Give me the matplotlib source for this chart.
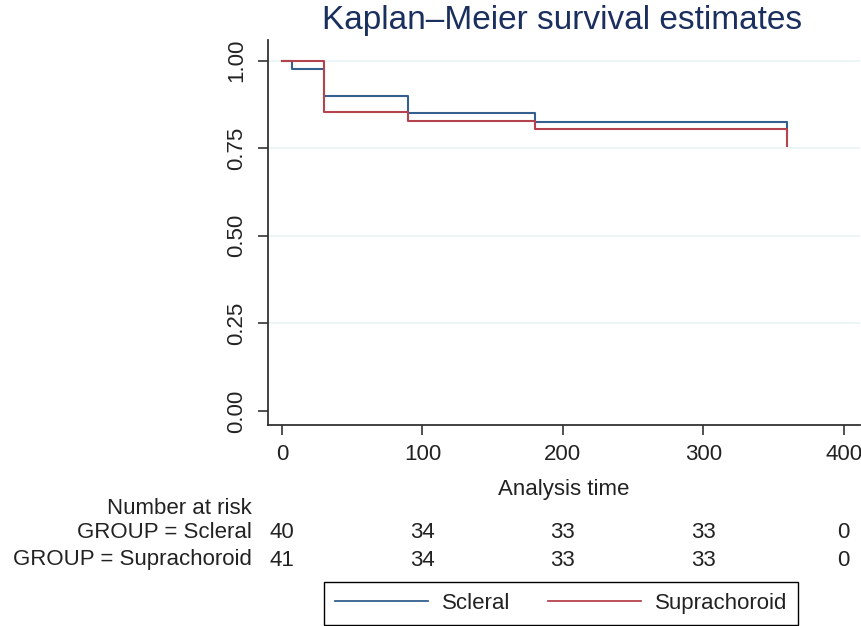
import matplotlib
matplotlib.use('Agg')
import matplotlib.pyplot as plt
from matplotlib.transforms import blended_transform_factory

plt.rcParams['font.family'] = ['Liberation Sans', 'DejaVu Sans']

# survival curves (time, estimate)
scleral_t = [0, 7, 30, 90, 180, 360]
scleral_s = [1.0, 0.975, 0.90, 0.85, 0.825, 0.80]
supra_t = [0, 30, 90, 180, 360]
supra_s = [1.0, 0.854, 0.829, 0.805, 0.756]

# number at risk table
risk_times = [0, 100, 200, 300, 400]
risk_scleral = [40, 34, 33, 33, 0]
risk_supra = [41, 34, 33, 33, 0]
group_labels = ['GROUP = Scleral', 'GROUP = Suprachoroid']

blue = '#345f8e'
red = '#b5434e'
txt = '#222222'

fig = plt.figure(figsize=(8.62, 6.26), dpi=100)
ax = fig.add_axes([268/862, 1 - 425/626, 592/862, 385/626])

for y in [0.25, 0.5, 0.75, 1.0]:
    ax.axhline(y, color='#eaf2f3', linewidth=1.2, zorder=0)

l1, = ax.step(scleral_t, scleral_s, where='post', color=blue, linewidth=1.5, label='Scleral')
l2, = ax.step(supra_t, supra_s, where='post', color=red, linewidth=1.5, label='Suprachoroid')

ax.set_xlim(-10, 411.7)
ax.set_ylim(-0.04, 1.059)
ax.set_xticks([0, 100, 200, 300, 400])
ax.set_yticks([0, 0.25, 0.5, 0.75, 1.0])
ax.set_yticklabels(['0.00', '0.25', '0.50', '0.75', '1.00'], rotation=90, va='center')

for side in ['top', 'right']:
    ax.spines[side].set_visible(False)
for side in ['left', 'bottom']:
    ax.spines[side].set_color('#333333')
    ax.spines[side].set_linewidth(1.3)
ax.tick_params(axis='both', length=7, width=1.2, color='#333333',
               labelsize=16, labelcolor=txt)
ax.tick_params(axis='x', pad=7)
ax.tick_params(axis='y', pad=8)

ax.set_xlabel('Analysis time', fontsize=16, color=txt, labelpad=10)
fig.text(562/862, 1 - 21/626, 'Kaplan\u2013Meier survival estimates',
         ha='center', va='center', fontsize=24, color='#1a2f5e')

# number at risk table
tr = blended_transform_factory(ax.transData, fig.transFigure)
fig.text(252/862, 1 - 508/626, 'Number at risk', ha='right', va='center',
         fontsize=16, color=txt)
rows_y = [1 - 533/626, 1 - 560/626]
for lab, counts, yy in zip(group_labels, [risk_scleral, risk_supra], rows_y):
    fig.text(252/862, yy, lab, ha='right', va='center', fontsize=16, color=txt)
    for t, n in zip(risk_times, counts):
        ax.text(t, yy, str(n), transform=tr, ha='center', va='center',
                fontsize=16, color=txt)

leg = fig.legend(handles=[l1, l2], loc='center', ncol=2,
                 bbox_to_anchor=(561/862, 1 - 603.5/626), fontsize=16,
                 handlelength=4.2, handletextpad=0.6, columnspacing=1.7,
                 borderpad=0.5, fancybox=False, framealpha=1)
leg.get_frame().set_edgecolor('black')
leg.get_frame().set_linewidth(1.0)
for t in leg.get_texts():
    t.set_color(txt)
for h in leg.get_lines():
    h.set_linewidth(1.3)

fig.savefig('out.png', dpi=100)
